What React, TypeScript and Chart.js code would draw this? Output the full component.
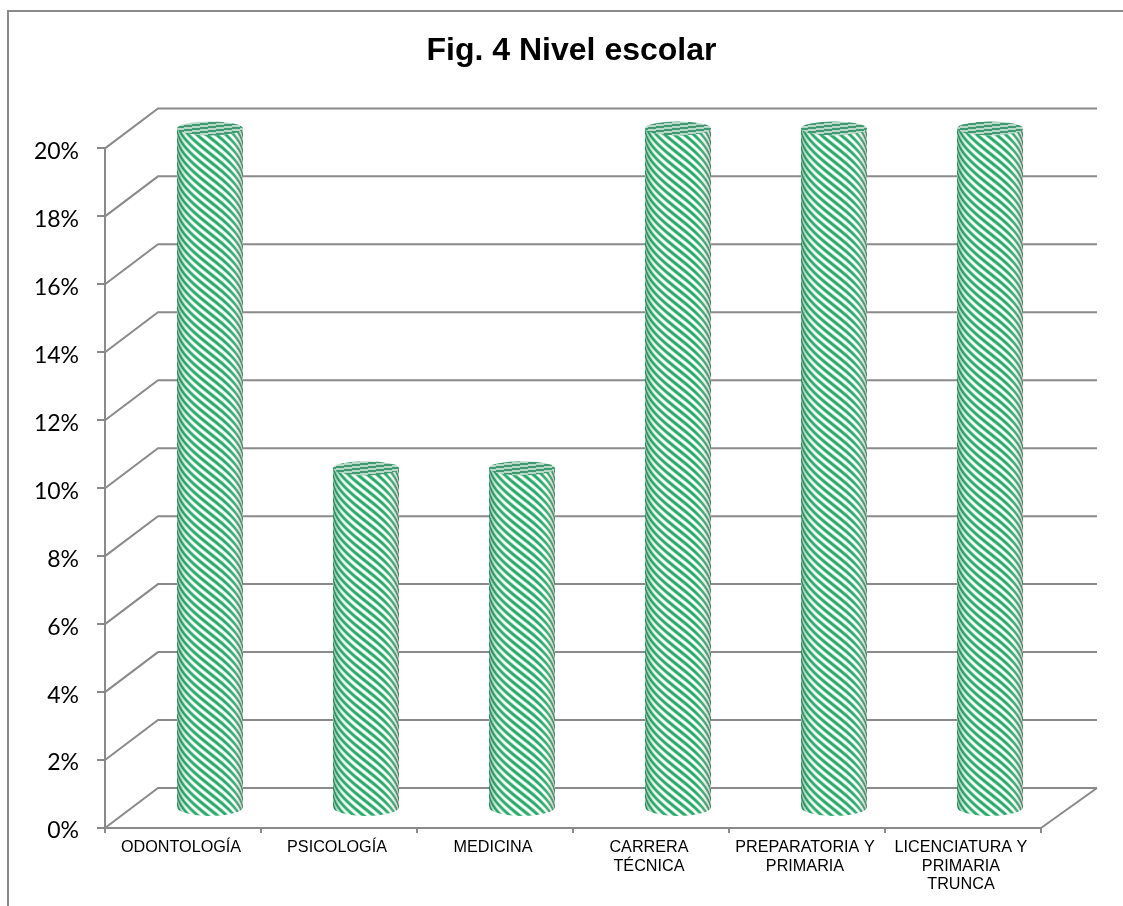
import React, { useEffect, useRef } from "react";
import { Chart, registerables } from "chart.js";

Chart.register(...registerables);

const categories = [
  "ODONTOLOGÍA",
  "PSICOLOGÍA",
  "MEDICINA",
  ["CARRERA", "TÉCNICA"],
  ["PREPARATORIA Y", "PRIMARIA"],
  ["LICENCIATURA Y", "PRIMARIA", "TRUNCA"],
];
const values = [20, 10, 10, 20, 20, 20];
const titleText = "Fig. 4 Nivel escolar";

const GRID = "#8a8a8a";
const DEPTH_X = 53;
const DEPTH_Y = -40;
const BAR_DX = 27;
const BAR_DY = -20;
const ELLIPSE_RY = 7;

function stripeTile(ctx: CanvasRenderingContext2D) {
  const t = document.createElement("canvas");
  t.width = 1;
  t.height = 8;
  const c = t.getContext("2d")!;
  c.fillStyle = "#ffffff";
  c.fillRect(0, 0, 1, 8);
  c.fillStyle = "#2aaa6a";
  c.fillRect(0, 0, 1, 3);
  c.fillStyle = "#8fd3b0";
  c.fillRect(0, 3, 1, 1);
  c.fillRect(0, 7, 1, 1);
  return ctx.createPattern(t, "repeat")!;
}

function topTile(ctx: CanvasRenderingContext2D) {
  const t = document.createElement("canvas");
  t.width = 32;
  t.height = 4;
  const c = t.getContext("2d")!;
  for (let px = 0; px < 32; px++) {
    for (let py = 0; py < 4; py++) {
      const phase = (py + px / 8) % 4;
      c.fillStyle = phase < 2 ? "#3f9a72" : "#b9d8c8";
      c.fillRect(px, py, 1, 1);
    }
  }
  return ctx.createPattern(t, "repeat")!;
}

const cylinder3D = {
  id: "cylinder3D",
  beforeDraw(chart: any) {
    const { ctx, width, height } = chart;
    ctx.save();
    ctx.fillStyle = "#ffffff";
    ctx.fillRect(0, 0, width, height);
    ctx.fillStyle = GRID;
    ctx.fillRect(7, 10, 2, height - 10);
    ctx.fillRect(7, 10, width - 7, 2);
    ctx.restore();
  },
  beforeDatasetsDraw(chart: any) {
    const { ctx, scales } = chart;
    const x = scales.x;
    const y = scales.y;
    ctx.save();
    ctx.strokeStyle = GRID;
    ctx.lineWidth = 2;
    ctx.beginPath();
    y.ticks.forEach((t: any) => {
      const py = y.getPixelForValue(t.value);
      ctx.moveTo(x.left, py);
      ctx.lineTo(x.left + DEPTH_X, py + DEPTH_Y);
      ctx.lineTo(x.right + DEPTH_X + 3, py + DEPTH_Y);
    });
    const by = y.getPixelForValue(0);
    ctx.moveTo(x.right, by);
    ctx.lineTo(x.right + DEPTH_X + 3, by + DEPTH_Y);
    ctx.stroke();
    ctx.restore();
  },
  afterDatasetsDraw(chart: any) {
    const { ctx } = chart;
    const stripes = stripeTile(ctx);
    const top = topTile(ctx);
    chart.getDatasetMeta(0).data.forEach((el: any) => {
      const cx = el.x + BAR_DX;
      const rx = el.width / 2;
      const yTop = el.y + BAR_DY;
      const yBot = el.base + BAR_DY;
      ctx.save();
      ctx.beginPath();
      ctx.moveTo(cx - rx, yTop);
      ctx.lineTo(cx - rx, yBot);
      ctx.ellipse(cx, yBot, rx, ELLIPSE_RY + 2, 0, Math.PI, 0, true);
      ctx.lineTo(cx + rx, yTop);
      ctx.closePath();
      ctx.clip();
      const left = Math.floor(cx - rx);
      const right = Math.ceil(cx + rx);
      ctx.fillStyle = stripes;
      for (let px = left; px < right; px++) {
        const u = Math.max(-1, Math.min(1, (px + 0.5 - cx) / rx));
        const shift = 0.8 * rx * Math.asin(u);
        ctx.save();
        ctx.translate(0, shift);
        ctx.fillRect(px, yTop - 20 - shift, 1, yBot - yTop + 50);
        ctx.restore();
      }
      const g = ctx.createLinearGradient(cx - rx, 0, cx + rx, 0);
      g.addColorStop(0, "rgba(20,110,70,0.5)");
      g.addColorStop(0.12, "rgba(40,140,90,0.15)");
      g.addColorStop(0.35, "rgba(255,255,255,0)");
      g.addColorStop(0.8, "rgba(255,255,255,0)");
      g.addColorStop(1, "rgba(90,90,80,0.4)");
      ctx.fillStyle = g;
      ctx.fillRect(cx - rx, yTop - 10, rx * 2, yBot - yTop + 30);
      ctx.restore();

      ctx.save();
      ctx.beginPath();
      ctx.ellipse(cx, yTop, rx, ELLIPSE_RY, 0, 0, Math.PI * 2);
      ctx.fillStyle = top;
      ctx.fill();
      ctx.restore();
    });
  },
};

export default function App() {
  const ref = useRef<HTMLCanvasElement>(null);
  useEffect(() => {
    const chart = new Chart(ref.current!, {
      type: "bar",
      data: {
        labels: categories as any,
        datasets: [
          {
            data: values,
            backgroundColor: "rgba(0,0,0,0)",
            borderWidth: 0,
            categoryPercentage: 1,
            barPercentage: 66 / 156,
          },
        ],
      },
      plugins: [cylinder3D],
      options: {
        responsive: false,
        animation: false,
        devicePixelRatio: 1,
        layout: {
          autoPadding: false,
          padding: { left: 20, right: 0, top: 0, bottom: 0 },
        },
        plugins: {
          legend: { display: false },
          tooltip: { enabled: false },
          title: {
            display: true,
            text: titleText,
            color: "#000000",
            font: { family: "'Liberation Sans'", size: 32, weight: "bold", lineHeight: 1.2 },
            padding: { top: 32, bottom: 78 },
          },
        },
        scales: {
          x: {
            afterFit(s: any) {
              s.height = 78;
            },
            border: { color: GRID, width: 2 },
            grid: {
              drawOnChartArea: false,
              drawTicks: true,
              tickLength: 5,
              color: GRID,
              lineWidth: 2,
              offset: true,
            },
            ticks: {
              color: "#000000",
              font: { family: "'Liberation Sans'", size: 16.2, lineHeight: 1.16 },
              maxRotation: 0,
              autoSkip: false,
              padding: 5,
              labelOffset: -2,
            },
          },
          y: {
            min: 0,
            max: 20,
            afterFit(s: any) {
              s.width = 85;
            },
            border: { color: GRID, width: 2 },
            grid: {
              drawOnChartArea: false,
              drawTicks: true,
              tickLength: 8,
              color: GRID,
              lineWidth: 2,
            },
            ticks: {
              stepSize: 2,
              color: "#000000",
              padding: 18,
              labelOffset: 3,
              font: { family: "Lato", size: 23 },
              callback: (v: any) => `${v}%`,
            },
          },
          rightGutter: {
            axis: "y",
            position: "right",
            min: 0,
            max: 20,
            afterFit(s: any) {
              s.width = 82;
            },
            border: { display: false },
            grid: { display: false, drawTicks: false },
            ticks: { display: false },
          },
        },
      },
    } as any);
    return () => chart.destroy();
  }, []);
  return (
    <canvas
      ref={ref}
      width={1123}
      height={906}
      style={{ position: "absolute", left: 0, top: 0, display: "block" }}
    />
  );
}
